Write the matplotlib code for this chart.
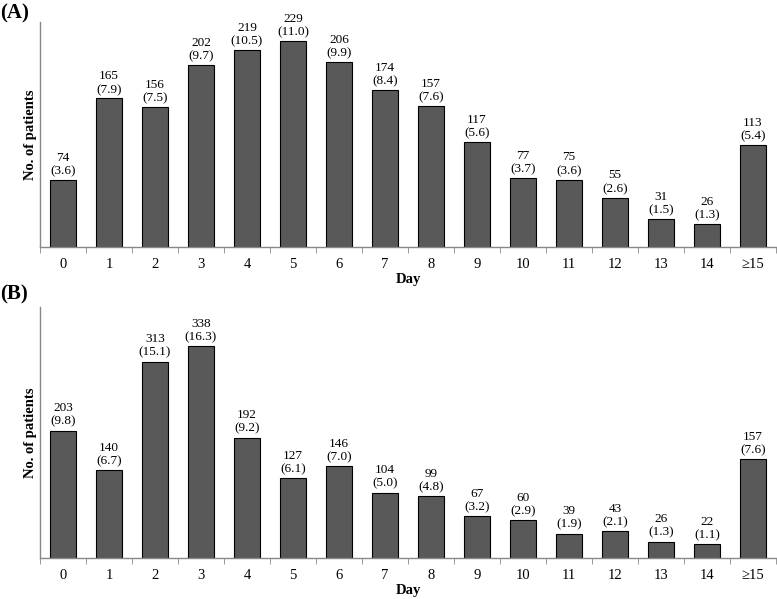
import numpy as np
import matplotlib
matplotlib.use('Agg')
import matplotlib.pyplot as plt

plt.rcParams['font.family'] = ['Liberation Serif', 'DejaVu Serif']

# Данные
days = ['0', '1', '2', '3', '4', '5', '6', '7', '8', '9', '10', '11', '12', '13', '14', '≥15']
counts_a = [74, 165, 156, 202, 219, 229, 206, 174, 157, 117, 77, 75, 55, 31, 26, 113]
pct_a = ['3.6', '7.9', '7.5', '9.7', '10.5', '11.0', '9.9', '8.4', '7.6', '5.6', '3.7', '3.6', '2.6', '1.5', '1.3', '5.4']
counts_b = [203, 140, 313, 338, 192, 127, 146, 104, 99, 67, 60, 39, 43, 26, 22, 157]
pct_b = ['9.8', '6.7', '15.1', '16.3', '9.2', '6.1', '7.0', '5.0', '4.8', '3.2', '2.9', '1.9', '2.1', '1.3', '1.1', '7.6']

fig = plt.figure(figsize=(7.77, 5.99), dpi=100)
ax_a = fig.add_axes([0.0515, 0.5876, 0.947, 0.3757])
ax_b = fig.add_axes([0.0515, 0.0684, 0.947, 0.4191])


def draw_panel(ax, counts, pct, ymax, letter, letter_y):
    x = np.arange(len(days))
    ax.bar(x, counts, width=0.56, color='#595959', edgecolor='black', linewidth=0.8)
    off = ymax * 0.012
    for xi, c, p in zip(x, counts, pct):
        ax.text(xi, c + off, f'{c}\n({p})', ha='center', va='bottom',
                fontsize=9.5, linespacing=1.15)
    ax.set_xlim(-0.5, len(days) - 0.5)
    ax.set_ylim(0, ymax)
    ax.set_xticks(x)
    ax.set_xticklabels(days, fontsize=10.5)
    ax.set_xticks(np.arange(-0.5, len(days)), minor=True)
    ax.tick_params(axis='x', which='major', length=0, pad=8)
    ax.tick_params(axis='x', which='minor', length=4, color='#888888', direction='out')
    ax.set_yticks([])
    for s in ['top', 'right']:
        ax.spines[s].set_visible(False)
    for s in ['left', 'bottom']:
        ax.spines[s].set_color('#888888')
        ax.spines[s].set_linewidth(1.0)
    ax.set_xlabel('Day', fontsize=10.5, fontweight='bold', labelpad=1)
    ax.set_ylabel('No. of patients', fontsize=10.5, fontweight='bold', labelpad=2)
    fig.text(0.0, letter_y, letter, fontsize=15, fontweight='bold', va='center', ha='left')


draw_panel(ax_a, counts_a, pct_a, 250, '(A)', 0.978)
draw_panel(ax_b, counts_b, pct_b, 400, '(B)', 0.508)

fig.savefig('out.png', dpi=100)
